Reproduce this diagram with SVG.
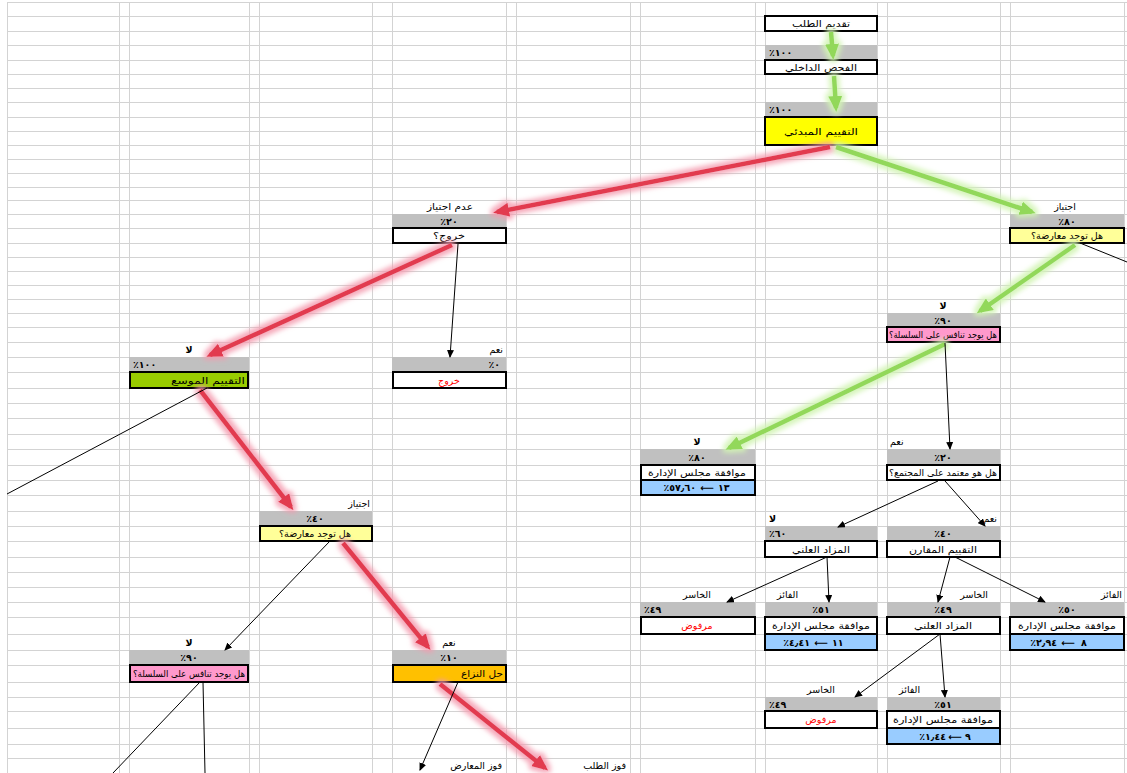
<svg xmlns="http://www.w3.org/2000/svg" width="1127" height="773" viewBox="0 0 1127 773">
<style>
.grid{stroke:#d3d3d3;stroke-width:1;fill:none}
.band{fill:#c0c0c0}
.box{stroke:#000;stroke-width:2}
.w{fill:#fff}
.yel{fill:#ffff00}
.ly{fill:#ffff99}
.pk{fill:#ff99cc}
.gr{fill:#99cc00}
.or{fill:#ffc000}
.bl{fill:#99ccff}
text{font-family:"DejaVu Sans",sans-serif;font-size:9.5px;fill:#000}
.p{font-weight:bold}
.m{text-anchor:middle}
.s{text-anchor:start}
.e{text-anchor:end}
.rtl{direction:rtl}
.red{fill:#ff0000}
.thin{stroke:#000;stroke-width:1;fill:none}
.rc{stroke:#e23a4f;stroke-width:4.5;fill:none}
.gc{stroke:#92d85a;stroke-width:4.5;fill:none}
</style>
<defs>
<marker id="ab" markerUnits="userSpaceOnUse" markerWidth="8" markerHeight="7" refX="7" refY="3.5" orient="auto"><path d="M0,0 L8,3.5 L0,7 z" fill="#000"/></marker>
<marker id="ar" markerUnits="userSpaceOnUse" markerWidth="16" markerHeight="14" refX="12" refY="7" orient="auto"><path d="M0,0 L16,7 L0,14 z" fill="#e23a4f"/></marker>
<marker id="ag" markerUnits="userSpaceOnUse" markerWidth="16" markerHeight="14" refX="12" refY="7" orient="auto"><path d="M0,0 L16,7 L0,14 z" fill="#92d85a"/></marker>
<filter id="glowR" filterUnits="userSpaceOnUse" x="0" y="0" width="1127" height="773">
<feMorphology in="SourceAlpha" operator="dilate" radius="3" result="d"/>
<feGaussianBlur in="d" stdDeviation="2.5" result="b"/>
<feFlood flood-color="#f49aae" flood-opacity="0.85"/>
<feComposite in2="b" operator="in" result="g"/>
<feMerge><feMergeNode in="g"/><feMergeNode in="SourceGraphic"/></feMerge>
</filter>
<filter id="glowG" filterUnits="userSpaceOnUse" x="0" y="0" width="1127" height="773">
<feMorphology in="SourceAlpha" operator="dilate" radius="3" result="d"/>
<feGaussianBlur in="d" stdDeviation="2.5" result="b"/>
<feFlood flood-color="#d2f4b4" flood-opacity="0.9"/>
<feComposite in2="b" operator="in" result="g"/>
<feMerge><feMergeNode in="g"/><feMergeNode in="SourceGraphic"/></feMerge>
</filter>
</defs>
<rect width="1127" height="773" fill="#fff"/>
<g id="grid" class="grid">
<path d="M7 2.5H1127M7 16.5H1127M7 31.5H1127M7 45.5H1127M7 60.5H1127M7 74.5H1127M7 88.5H1127M7 102.5H1127M7 117.5H1127M7 131.5H1127M7 145.5H1127M7 159.5H1127M7 173.5H1127M7 187.5H1127M7 200.5H1127M7 214.5H1127M7 228.5H1127M7 243.5H1127M7 257.5H1127M7 271.5H1127M7 285.5H1127M7 299.5H1127M7 313.5H1127M7 327.5H1127M7 342.5H1127M7 357.5H1127M7 372.5H1127M7 388.5H1127M7 403.5H1127M7 418.5H1127M7 434.5H1127M7 449.5H1127M7 465.5H1127M7 480.5H1127M7 495.5H1127M7 511.5H1127M7 526.5H1127M7 541.5H1127M7 557.5H1127M7 572.5H1127M7 587.5H1127M7 602.5H1127M7 617.5H1127M7 634.5H1127M7 650.5H1127M7 665.5H1127M7 682.5H1127M7 697.5H1127M7 711.5H1127M7 728.5H1127M7 744.5H1127M7 758.5H1127"/>
<path d="M7.5 2V773M119.5 2V773M129.5 2V773M249.5 2V773M259.5 2V773M372.5 2V773M392.5 2V773M506.5 2V773M516.5 2V773M630.5 2V773M640.5 2V773M755.5 2V773M765.5 2V773M877.5 2V773M887.5 2V773M1000.5 2V773M1010.5 2V773M1124.5 2V773"/>
</g>

<g id="n1"><rect class="box w" x="765" y="16" width="112" height="15"/><text class="m" x="821" y="27" textLength="58" lengthAdjust="spacingAndGlyphs">تقديم الطلب</text></g>
<g id="n2"><rect class="band" x="765" y="45" width="112" height="15"/><text class="p s" x="769" y="56">٪١٠٠</text><rect class="box w" x="765" y="60" width="112" height="14"/><text class="m" x="821" y="71" textLength="72" lengthAdjust="spacingAndGlyphs">الفحص الداخلي</text></g>
<g id="n3"><rect class="band" x="765" y="102" width="112" height="15"/><text class="p s" x="769" y="113">٪١٠٠</text><rect class="box yel" x="765" y="117" width="112" height="28"/><text class="m" x="821" y="135" textLength="74" lengthAdjust="spacingAndGlyphs">التقييم المبدئي</text></g>
<g id="n4"><text class="m" x="450" y="210" textLength="46" lengthAdjust="spacingAndGlyphs">عدم اجتياز</text><rect class="band" x="392" y="214" width="114" height="14"/><text class="p m" x="449" y="225">٪٢٠</text><rect class="box w" x="393" y="228" width="113" height="15"/><text class="m rtl" x="449" y="239" textLength="32" lengthAdjust="spacingAndGlyphs">خروج؟</text></g>
<g id="n5"><text class="m" x="1065" y="210">اجتياز</text><rect class="band" x="1010" y="214" width="114" height="14"/><text class="p m" x="1067" y="225">٪٨٠</text><rect class="box ly" x="1010" y="228" width="114" height="15"/><text class="m rtl" x="1067" y="239" textLength="72" lengthAdjust="spacingAndGlyphs">هل توجد معارضة؟</text></g>
<g id="n6"><text class="m p" x="943" y="309">لا</text><rect class="band" x="887" y="313" width="113" height="14"/><text class="p m" x="943" y="324">٪٩٠</text><rect class="box pk" x="887" y="327" width="113" height="15"/><text class="m rtl" x="943" y="338" textLength="108" lengthAdjust="spacingAndGlyphs">هل يوجد تنافس على السلسلة؟</text></g>
<g id="n7"><text class="m p" x="189" y="353">لا</text><rect class="band" x="129" y="357" width="120" height="15"/><text class="p s" x="133" y="368">٪١٠٠</text><rect class="box gr" x="130" y="372" width="118" height="16"/><text class="e" x="245" y="384" textLength="74" lengthAdjust="spacingAndGlyphs">التقييم الموسع</text></g>
<g id="n8"><text class="e" x="503" y="353">نعم</text><rect class="band" x="392" y="357" width="114" height="15"/><text class="p e" x="500" y="368">٪٠</text><rect class="box w" x="393" y="372" width="113" height="16"/><text class="m red" x="449" y="384">خروج</text></g>
<g id="n9"><text class="m p" x="697" y="445">لا</text><rect class="band" x="640" y="449" width="115" height="16"/><text class="p m" x="697" y="461">٪٨٠</text><rect class="box w" x="641" y="465" width="114" height="15"/><text class="m" x="697" y="476" textLength="98" lengthAdjust="spacingAndGlyphs">موافقة مجلس الإدارة</text><rect class="box bl" x="641" y="480" width="114" height="15"/><text class="p e" x="696" y="491">٪٥٧٫٦٠</text><text class="p m" x="707" y="491">⟵</text><text class="p s" x="718" y="491">١٣</text></g>
<g id="n10"><text class="s" x="890" y="445">نعم</text><rect class="band" x="887" y="449" width="113" height="16"/><text class="p m" x="943" y="461">٪٢٠</text><rect class="box w" x="887" y="465" width="113" height="15"/><text class="m rtl" x="943" y="476" textLength="108" lengthAdjust="spacingAndGlyphs">هل هو معتمد على المجتمع؟</text></g>
<g id="n11"><text class="e" x="370" y="507">اجتياز</text><rect class="band" x="259" y="511" width="113" height="15"/><text class="p m" x="315" y="522">٪٤٠</text><rect class="box ly" x="260" y="526" width="112" height="15"/><text class="m rtl" x="315" y="537" textLength="72" lengthAdjust="spacingAndGlyphs">هل توجد معارضة؟</text></g>
<g id="n12"><text class="s p" x="769" y="522">لا</text><rect class="band" x="765" y="526" width="112" height="15"/><text class="p s" x="769" y="537">٪٦٠</text><rect class="box w" x="765" y="541" width="112" height="16"/><text class="m" x="821" y="553" textLength="58" lengthAdjust="spacingAndGlyphs">المزاد العلني</text></g>
<g id="n13"><text class="e" x="997" y="522">نعم</text><rect class="band" x="887" y="526" width="113" height="15"/><text class="p m" x="943" y="537">٪٤٠</text><rect class="box w" x="887" y="541" width="113" height="16"/><text class="m" x="943" y="553" textLength="68" lengthAdjust="spacingAndGlyphs">التقييم المقارن</text></g>
<g id="n14"><text class="m" x="697" y="598">الخاسر</text><rect class="band" x="640" y="602" width="115" height="15"/><text class="p s" x="644" y="613">٪٤٩</text><rect class="box w" x="641" y="617" width="114" height="17"/><text class="m red" x="697" y="629">مرفوض</text></g>
<g id="n15"><text class="s" x="777" y="598">الفائز</text><rect class="band" x="765" y="602" width="112" height="15"/><text class="p m" x="821" y="613">٪٥١</text><rect class="box w" x="765" y="617" width="112" height="17"/><text class="m" x="821" y="629" textLength="98" lengthAdjust="spacingAndGlyphs">موافقة مجلس الإدارة</text><rect class="box bl" x="765" y="634" width="112" height="16"/><text class="p e" x="810" y="646">٪٤٫٤١</text><text class="p m" x="821" y="646">⟵</text><text class="p s" x="832" y="646">١١</text></g>
<g id="n16"><text class="e" x="988" y="598">الخاسر</text><rect class="band" x="887" y="602" width="113" height="15"/><text class="p m" x="943" y="613">٪٤٩</text><rect class="box w" x="887" y="617" width="113" height="17"/><text class="m" x="943" y="629" textLength="58" lengthAdjust="spacingAndGlyphs">المزاد العلني</text></g>
<g id="n17"><text class="e" x="1122" y="598">الفائز</text><rect class="band" x="1010" y="602" width="114" height="15"/><text class="p m" x="1067" y="613">٪٥٠</text><rect class="box w" x="1010" y="617" width="114" height="17"/><text class="m" x="1067" y="629" textLength="98" lengthAdjust="spacingAndGlyphs">موافقة مجلس الإدارة</text><rect class="box bl" x="1010" y="634" width="114" height="16"/><text class="p e" x="1057" y="646">٪٢٫٩٤</text><text class="p m" x="1068" y="646">⟵</text><text class="p s" x="1081" y="646">٨</text></g>
<g id="n18"><text class="m p" x="189" y="646">لا</text><rect class="band" x="129" y="650" width="120" height="15"/><text class="p m" x="189" y="661">٪٩٠</text><rect class="box pk" x="130" y="665" width="118" height="17"/><text class="m rtl" x="189" y="677" textLength="112" lengthAdjust="spacingAndGlyphs">هل يوجد تنافس على السلسلة؟</text></g>
<g id="n19"><text class="m" x="449" y="646">نعم</text><rect class="band" x="392" y="650" width="114" height="15"/><text class="p m" x="449" y="661">٪١٠</text><rect class="box or" x="393" y="665" width="113" height="17"/><text class="e" x="503" y="677" textLength="42" lengthAdjust="spacingAndGlyphs">حل النزاع</text></g>
<g id="n20"><text class="m" x="821" y="693">الخاسر</text><rect class="band" x="765" y="697" width="112" height="14"/><text class="p s" x="769" y="708">٪٤٩</text><rect class="box w" x="765" y="711" width="112" height="17"/><text class="m red" x="821" y="723">مرفوض</text></g>
<g id="n21"><text class="s" x="899" y="693">الفائز</text><rect class="band" x="887" y="697" width="113" height="14"/><text class="p m" x="943" y="708">٪٥١</text><rect class="box w" x="887" y="711" width="113" height="17"/><text class="m" x="943" y="723" textLength="100" lengthAdjust="spacingAndGlyphs">موافقة مجلس الإدارة</text><rect class="box bl" x="887" y="728" width="113" height="16"/><text class="p e" x="946" y="740">٪١٫٤٤</text><text class="p m" x="955" y="740">⟵</text><text class="p s" x="965" y="740">٩</text></g>
<g id="n22"><text class="e" x="502" y="769">فوز المعارض</text></g>
<g id="n23"><text class="e" x="626" y="769">فوز الطلب</text></g>

<g id="connectors">
<g filter="url(#glowG)">
<path class="gc" d="M831 32L833 56" marker-end="url(#ag)"/>
<path class="gc" d="M834 76L836 108" marker-end="url(#ag)"/>
<path class="gc" d="M836 147L1032 212" marker-end="url(#ag)"/>
<path class="gc" d="M1075 245L980 311" marker-end="url(#ag)"/>
<path class="gc" d="M945 344L729 448" marker-end="url(#ag)"/>
</g>
<g filter="url(#glowR)">
<path class="rc" d="M830 147L497 212" marker-end="url(#ar)"/>
<path class="rc" d="M452 245L210 355" marker-end="url(#ar)"/>
<path class="rc" d="M200 390L291 507" marker-end="url(#ar)"/>
<path class="rc" d="M343 543L428 647" marker-end="url(#ar)"/>
<path class="rc" d="M440 684L545 768" marker-end="url(#ar)"/>
</g>
<path class="thin" d="M458 244L450 357" marker-end="url(#ab)"/>
<path class="thin" d="M1080 243L1127 262"/>
<path class="thin" d="M945 343L950 449" marker-end="url(#ab)"/>
<path class="thin" d="M207 388L7 494"/>
<path class="thin" d="M330 541L225 650" marker-end="url(#ab)"/>
<path class="thin" d="M458 682L420 770" marker-end="url(#ab)"/>
<path class="thin" d="M200 682L113 773"/>
<path class="thin" d="M203 682L205 773"/>
<path class="thin" d="M938 481L838 527" marker-end="url(#ab)"/>
<path class="thin" d="M945 481L985 526" marker-end="url(#ab)"/>
<path class="thin" d="M827 557L727 602" marker-end="url(#ab)"/>
<path class="thin" d="M827 557L829 602" marker-end="url(#ab)"/>
<path class="thin" d="M950 557L938 602" marker-end="url(#ab)"/>
<path class="thin" d="M955 557L1045 602" marker-end="url(#ab)"/>
<path class="thin" d="M940 634L855 697" marker-end="url(#ab)"/>
<path class="thin" d="M940 634L945 697" marker-end="url(#ab)"/>
</g>
</svg>
